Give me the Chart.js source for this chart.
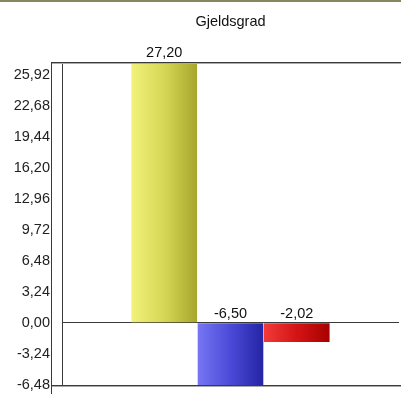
<!DOCTYPE html>
<html>
<head>
<meta charset="utf-8">
<script src="https://cdn.jsdelivr.net/npm/chart.js@4/dist/chart.umd.min.js"></script>
<style>
html,body{margin:0;padding:0;background:#fff;}
#wrap{width:401px;height:394px;position:relative;}
</style>
</head>
<body>
<div id="wrap"><canvas id="c" width="401" height="394"></canvas></div>
<script>
const chartTitle = "Gjeldsgrad";
const categories = [""];
const seriesNames = ["Serie 1", "Serie 2", "Serie 3"];
const seriesValues = [27.20, -6.50, -2.02];
const tickValues = [-6.48, -3.24, 0.00, 3.24, 6.48, 9.72, 12.96, 16.20, 19.44, 22.68, 25.92];
const axisMin = -6.50;
const axisMax = 27.20;
const gradStops = [
  ["#f2f27a", "#d6d656", "#a6a62c"],
  ["#7676f4", "#4a4ad8", "#2424a4"],
  ["#f23a3a", "#d41414", "#a80000"]
];

const FONT = '"Liberation Sans", Arial, sans-serif';
const FSIZE = 14.5;
const fmt = v => v.toFixed(2).replace('.', ',').replace(/^-0,00$/, '0,00');

const gradientPlugin = {
  id: 'grad',
  beforeDatasetsDraw(chart) {
    const ctx = chart.ctx;
    chart.data.datasets.forEach((ds, i) => {
      const meta = chart.getDatasetMeta(i);
      meta.data.forEach(el => {
        const x0 = el.x - el.width / 2, x1 = el.x + el.width / 2;
        const g = ctx.createLinearGradient(x0, 0, x1, 0);
        const s = gradStops[i];
        g.addColorStop(0, s[0]);
        g.addColorStop(0.5, s[1]);
        g.addColorStop(1, s[2]);
        el.options.backgroundColor = g;
      });
    });
  }
};

const framePlugin = {
  id: 'frame',
  afterDraw(chart) {
    const ctx = chart.ctx;
    const a = chart.chartArea;
    const W = chart.width, H = chart.height;
    ctx.save();
    ctx.fillStyle = '#86865f';
    ctx.fillRect(0, 0, W, 2);
    ctx.strokeStyle = '#3a3a3a';
    ctx.lineWidth = 1;
    const outerX = a.left - 11;
    const t = Math.round(a.top) + 0.5, b = Math.round(a.bottom) + 0.5;
    ctx.beginPath();
    ctx.moveTo(outerX + 0.5, t);
    ctx.lineTo(outerX + 0.5, H);
    ctx.moveTo(Math.round(a.left) + 0.5, t);
    ctx.lineTo(Math.round(a.left) + 0.5, b);
    ctx.moveTo(outerX, t);
    ctx.lineTo(W, t);
    ctx.moveTo(outerX, b);
    ctx.lineTo(W, b);
    ctx.stroke();
    ctx.strokeStyle = '#aaaaaa';
    ctx.beginPath();
    ctx.moveTo(outerX + 1, t + 1);
    ctx.lineTo(W, t + 1);
    ctx.moveTo(outerX + 1, b + 1);
    ctx.lineTo(W, b + 1);
    ctx.stroke();
    ctx.fillStyle = '#111';
    ctx.font = FSIZE + 'px ' + FONT;
    ctx.textAlign = 'center';
    ctx.textBaseline = 'bottom';
    chart.data.datasets.forEach((ds, i) => {
      const meta = chart.getDatasetMeta(i);
      meta.data.forEach((el, j) => {
        const v = ds.data[j];
        const y = v >= 0 ? el.y : el.base;
        ctx.fillText(fmt(v), el.x, y - 2);
      });
    });
    ctx.restore();
  }
};

new Chart(document.getElementById('c'), {
  type: 'bar',
  data: {
    labels: categories,
    datasets: seriesNames.map((n, i) => ({
      label: n,
      data: [seriesValues[i]],
      backgroundColor: gradStops[i][1],
      borderWidth: 0,
      categoryPercentage: 0.59,
      barPercentage: 0.99
    }))
  },
  options: {
    responsive: false,
    animation: false,
    devicePixelRatio: 1,
    layout: { padding: { left: 0, right: 2, top: 0, bottom: 9 } },
    plugins: {
      legend: { display: false },
      tooltip: { enabled: false },
      title: {
        display: true,
        text: chartTitle,
        fullSize: false,
        color: '#111',
        font: { family: FONT, size: FSIZE, weight: 'normal' },
        padding: { top: 13, bottom: 32 }
      }
    },
    scales: {
      x: { display: false, grid: { display: false } },
      y: {
        min: axisMin,
        max: axisMax,
        afterBuildTicks: s => { s.ticks = tickValues.map(v => ({ value: v })); },
        afterFit: s => { s.width = 62; s.paddingTop = 0; s.paddingBottom = 0; },
        border: { display: false },
        grid: {
          drawTicks: false,
          color: c => (c.tick && c.tick.value === 0) ? '#3a3a3a' : 'rgba(0,0,0,0)',
          lineWidth: 1
        },
        ticks: {
          padding: 12,
          color: '#222',
          font: { family: FONT, size: FSIZE },
          callback: v => fmt(v),
          autoSkip: false
        }
      }
    }
  },
  plugins: [gradientPlugin, framePlugin]
});
</script>
</body>
</html>
